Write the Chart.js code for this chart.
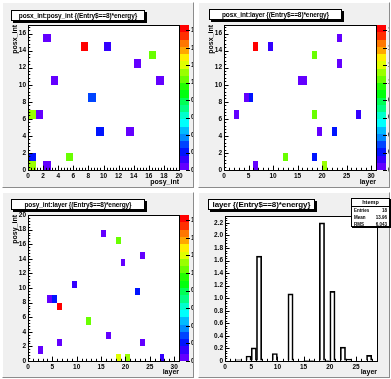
<!DOCTYPE html>
<html>
<head>
<meta charset="utf-8">
<script src="https://cdn.jsdelivr.net/npm/chart.js@4/dist/chart.umd.min.js"></script>
<style>
body { margin: 0; width: 391px; height: 379px; background: #ffffff; position: relative; overflow: hidden; font-family: "Liberation Sans", Arial, sans-serif; }
.pad { position: absolute; background: #f0f0f0; box-sizing: border-box; border-left: 1px solid #ffffff; border-top: 1px solid #ffffff; border-right: 1px solid #8c8c8c; border-bottom: 1px solid #8c8c8c; overflow: hidden; }
.pad canvas { position: absolute; left: -1px; top: -1px; }
.ttl { position: absolute; background: #ffffff; border: 1px solid #000; box-shadow: 2px 2px 0 #000; font-weight: bold; white-space: nowrap; text-align: center; box-sizing: border-box; letter-spacing: -0.1px; }
.stats { position: absolute; background: #ffffff; border: 1px solid #000; box-shadow: 1px 1px 0 #000; font-size: 4.5px; font-weight: bold; box-sizing: border-box; }
.stats .h { text-align: center; font-size: 5.5px; border-bottom: 1px solid #000; line-height: 7px; }
.stats .r { display: flex; justify-content: space-between; padding: 0 2px; line-height: 7px; }
</style>
</head>
<body>
<div class="pad" id="p1" style="left:2px;top:2px;width:192px;height:186px"><canvas id="c1" width="192" height="186"></canvas></div>
<div class="pad" id="p2" style="left:198px;top:2px;width:192px;height:186px"><canvas id="c2" width="192" height="186"></canvas></div>
<div class="pad" id="p3" style="left:2px;top:192px;width:192px;height:186px"><canvas id="c3" width="192" height="186"></canvas></div>
<div class="pad" id="p4" style="left:198px;top:192px;width:192px;height:186px"><canvas id="c4" width="192" height="186"></canvas></div>

<div class="ttl" style="left:11px;top:10px;width:134px;height:11px;font-size:6.5px;line-height:9px">posx_int:posy_int {(Entry$==8)*energy}</div>
<div class="ttl" style="left:209px;top:9px;width:133px;height:11px;font-size:6.5px;line-height:9px">posx_int:layer {(Entry$==8)*energy}</div>
<div class="ttl" style="left:11px;top:199px;width:134px;height:11px;font-size:6.5px;line-height:9px">posy_int:layer {(Entry$==8)*energy}</div>
<div class="ttl" style="left:208px;top:199px;width:107px;height:11px;font-size:8px;line-height:9px">layer {(Entry$==8)*energy}</div>

<div class="stats" style="left:351px;top:198px;width:39px;height:29px">
  <div class="h">htemp</div>
  <div class="r"><span>Entries</span><span>18</span></div>
  <div class="r"><span>Mean</span><span>13.96</span></div>
  <div class="r"><span>RMS</span><span>6.043</span></div>
</div>

<script>
// hits of entry 8
const hitLayer  = [23, 6, 9, 18, 23, 15, 16, 4, 5, 2, 18, 27, 19, 22, 12, 18, 6, 20];
const hitPosX   = [15, 14, 14, 13, 12, 10, 10, 8, 8, 6, 6, 6, 4, 4, 1, 1, 0, 0];
const hitPosY   = [2, 7, 10, 16, 14, 17, 3, 8, 8, 1, 0, 0, 13, 9, 5, 0, 2, 0];
const hitEnergy = [0.015, 1.66, 0.12, 1.0, 0.015, 0.01, 0.01, 0.08, 0.21, 0.02, 1.0, 0.09, 0.01, 0.22, 1.07, 0.2, 0.01, 1.11];

const FONT = 'Liberation Sans';
const NLEV = 20;

// root "pretty" palette, 50 colours violet -> red
function levelColor(k) {
    var i = Math.floor((k + 0.99) * 50 / NLEV);
    var hue = 280 - (i + 1) * 5.6;
    return 'hsl(' + hue + ',100%,50%)';
}
function cellColor(v, zmax) {
    var k = Math.floor(0.01 + v / zmax * NLEV);
    if (k > NLEV - 1) k = NLEV - 1;
    return levelColor(k);
}

// fill 2d histogram cells (bin = integer value, width 1)
function binCells(xs, ys) {
    var map = {};
    for (var i = 0; i < hitEnergy.length; i++) {
        var key = xs[i] + ',' + ys[i];
        if (!map[key]) map[key] = { x: xs[i] + 0.5, y: ys[i] + 0.5, v: 0 };
        map[key].v += hitEnergy[i];
    }
    return Object.values(map);
}

function isMajor(v, step) {
    return Math.abs(v / step - Math.round(v / step)) < 1e-6;
}

// frame, cells, inside ticks and palette like a root pad
const rootPad = {
    id: 'rootPad',
    beforeDraw(chart) {
        var a = chart.chartArea, ctx = chart.ctx;
        ctx.save();
        ctx.fillStyle = '#ffffff';
        ctx.fillRect(a.left, a.top, a.right - a.left, a.bottom - a.top);
        ctx.restore();
    },
    afterDatasetsDraw(chart) {
        var o = chart.options.plugins.rootPad;
        var a = chart.chartArea, ctx = chart.ctx;
        var xs = chart.scales.x, ys = chart.scales.y;
        ctx.save();
        if (o.cells) {
            chart.data.datasets[0].data.forEach(function (c) {
                var x0 = Math.round(xs.getPixelForValue(c.x - 0.5));
                var x1 = Math.round(xs.getPixelForValue(c.x + 0.5));
                var y0 = Math.round(ys.getPixelForValue(c.y - 0.5));
                var y1 = Math.round(ys.getPixelForValue(c.y + 0.5));
                ctx.fillStyle = cellColor(c.v, o.zmax);
                ctx.fillRect(x0, y1, x1 - x0, y0 - y1);
            });
        }
        // ticks
        ctx.strokeStyle = '#000';
        ctx.lineWidth = 1;
        ctx.beginPath();
        var lx = (a.bottom - a.top) * 0.03, ly = (a.right - a.left) * 0.03;
        for (var v = xs.min; v <= xs.max + 1e-9; v += o.xMinor) {
            var px = Math.round(xs.getPixelForValue(v)) + 0.5;
            var len = isMajor(v, o.xMajor) ? lx : lx / 2;
            ctx.moveTo(px, a.bottom);
            ctx.lineTo(px, a.bottom - len);
        }
        for (var w = ys.min; w <= ys.max + 1e-9; w += o.yMinor) {
            var py = Math.round(ys.getPixelForValue(w)) + 0.5;
            var len2 = isMajor(w, o.yMajor) ? ly : ly / 2;
            ctx.moveTo(a.left, py);
            ctx.lineTo(a.left + len2, py);
        }
        ctx.stroke();
        ctx.strokeRect(Math.round(a.left) + 0.5, Math.round(a.top) + 0.5, Math.round(a.right - a.left), Math.round(a.bottom - a.top));
        // palette
        if (o.cells) {
            var zs = chart.scales.z;
            var pl = Math.round(a.right) + 1, pw = 9;
            for (var k = 0; k < NLEV; k++) {
                var yb = Math.round(zs.getPixelForValue(k * o.zmax / NLEV));
                var yt = Math.round(zs.getPixelForValue((k + 1) * o.zmax / NLEV));
                ctx.fillStyle = levelColor(k);
                ctx.fillRect(pl, yt, pw, yb - yt);
            }
            ctx.beginPath();
            zs.ticks.forEach(function (t) {
                var py = Math.round(zs.getPixelForValue(t.value)) + 0.5;
                ctx.moveTo(pl + pw - 3, py);
                ctx.lineTo(pl + pw + 1, py);
            });
            ctx.stroke();
        }
        ctx.restore();
    }
};

function tickFont() { return { family: FONT, size: 6.5, weight: 'bold' }; }
function titleFont() { return { family: FONT, size: 7, weight: 'bold' }; }

function axisX(min, max, step, title, h) {
    return {
        type: 'linear', min: min, max: max, offset: false,
        grid: { display: true, drawOnChartArea: false, drawTicks: false, offset: false },
        border: { display: false },
        ticks: { stepSize: step, autoSkip: false, maxRotation: 0, includeBounds: false, padding: 2, color: '#000', font: tickFont() },
        title: { display: true, text: title, align: 'end', color: '#000', font: titleFont(), padding: { top: 0, bottom: 1.5 } },
        afterFit: function (s) { s.height = h; }
    };
}
function axisY(min, max, step, title, w) {
    return {
        type: 'linear', min: min, max: max,
        grid: { display: true, drawOnChartArea: false, drawTicks: false },
        border: { display: false },
        ticks: { stepSize: step, autoSkip: false, includeBounds: false, padding: 2, color: '#000', font: tickFont() },
        title: { display: !!title, text: title, align: 'end', color: '#000', font: titleFont(), padding: { top: 8.8, bottom: 0 } },
        afterFit: function (s) { s.width = w; }
    };
}
function axisZ(zmax, w) {
    return {
        type: 'linear', position: 'right', min: 0, max: zmax, display: true,
        grid: { display: true, drawOnChartArea: false, drawTicks: false },
        border: { display: false },
        ticks: { stepSize: 0.2, autoSkip: false, includeBounds: false, padding: 12, color: '#000', font: tickFont() },
        afterFit: function (s) { s.width = w; }
    };
}

// pad: canvas origin and frame in page pixels
function colzPad(id, pad, frame, xs, ys, xMax, yMax, xMajor, yMajor, xTitle, yTitle) {
    var cells = binCells(xs, ys);
    var zmax = Math.max.apply(null, cells.map(function (c) { return c.v; }));
    var W = 192, H = 186;
    var fl = frame.l - pad.x, fr = frame.r - pad.x, ft = frame.t - pad.y, fb = frame.b - pad.y;
    return new Chart(document.getElementById(id), {
        type: 'scatter',
        data: { datasets: [{ data: cells, pointRadius: 0, pointHoverRadius: 0 }] },
        plugins: [rootPad],
        options: {
            responsive: false, animation: false, devicePixelRatio: 1,
            layout: { padding: { left: 0, top: ft, right: 0, bottom: 0 } },
            plugins: {
                legend: { display: false }, tooltip: { enabled: false },
                rootPad: { cells: true, zmax: zmax, xMajor: xMajor, xMinor: xMajor / 5, yMajor: yMajor, yMinor: yMajor / 5 }
            },
            scales: {
                x: axisX(0, xMax, xMajor, xTitle, H - fb),
                y: axisY(0, yMax, yMajor, yTitle, fl),
                z: axisZ(zmax, W - fr)
            }
        }
    });
}

// layer histogram, 29 bins of width 1
const LAYER_MAX = 29;
const layerBins = [];
for (var b = 0; b < LAYER_MAX; b++) {
    var s = 0;
    for (var i = 0; i < hitLayer.length; i++) if (hitLayer[i] === b) s += hitEnergy[i];
    layerBins.push({ x: b + 0.5, y: s });
}

colzPad('c1', { x: 1, y: 1 }, { l: 27, r: 178, t: 24, b: 169 }, hitPosY, hitPosX, 20, 17, 2, 2, 'posy_int', 'posx_int');
colzPad('c2', { x: 197, y: 1 }, { l: 223, r: 375, t: 24, b: 169 }, hitLayer, hitPosX, 31, 17, 5, 2, 'layer', 'posx_int');
colzPad('c3', { x: 1, y: 191 }, { l: 27, r: 178, t: 214, b: 360 }, hitLayer, hitPosY, 31, 20, 5, 2, 'layer', 'posy_int');

(function () {
    var pad = { x: 197, y: 191 }, frame = { l: 224, r: 376, t: 215, b: 360 };
    var W = 192, H = 186;
    var ymax = 1.05 * Math.max.apply(null, layerBins.map(function (d) { return d.y; }));
    new Chart(document.getElementById('c4'), {
        type: 'bar',
        data: {
            datasets: [{
                data: layerBins,
                backgroundColor: 'rgba(0,0,0,0)',
                borderColor: '#000',
                borderWidth: 1,
                barPercentage: 1,
                categoryPercentage: 1
            }]
        },
        plugins: [rootPad],
        options: {
            responsive: false, animation: false, devicePixelRatio: 1,
            layout: { padding: { left: 0, top: frame.t - pad.y, right: W - (frame.r - pad.x), bottom: 0 } },
            plugins: {
                legend: { display: false }, tooltip: { enabled: false },
                rootPad: { cells: false, xMajor: 5, xMinor: 1, yMajor: 0.2, yMinor: 0.04 }
            },
            scales: {
                x: axisX(0, LAYER_MAX, 5, 'layer', H - (frame.b - pad.y)),
                y: axisY(0, ymax, 0.2, '', frame.l - pad.x)
            }
        }
    });
})();
</script>
</body>
</html>
